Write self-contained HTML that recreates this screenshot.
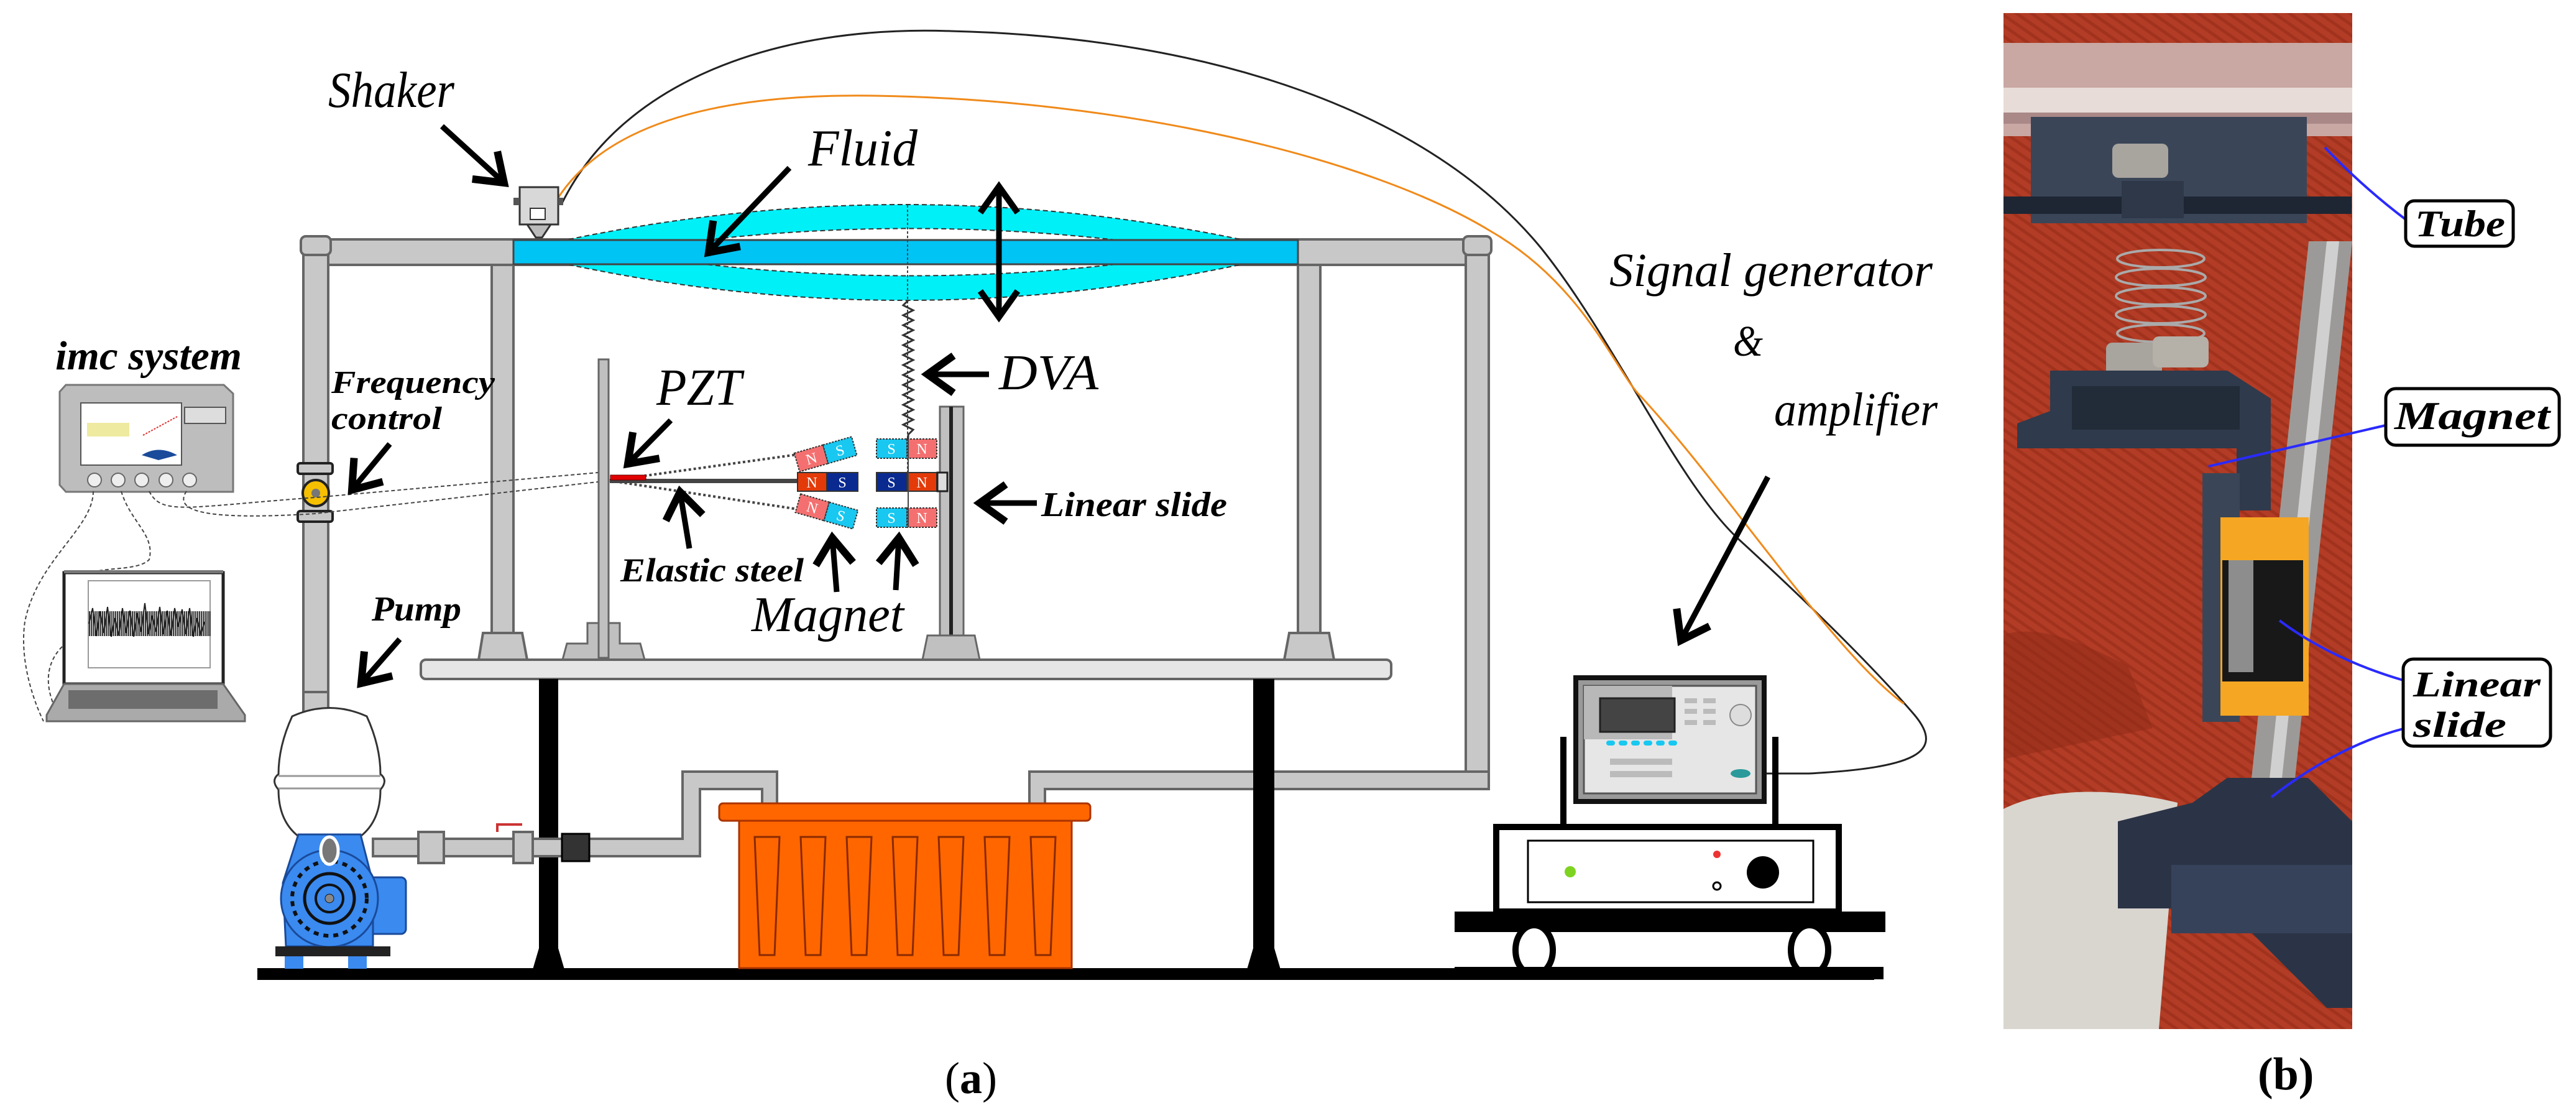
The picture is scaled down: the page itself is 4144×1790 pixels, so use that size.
<!DOCTYPE html>
<html><head><meta charset="utf-8"><style>
html,body{margin:0;padding:0;background:#fff}
svg{display:block}
text{font-family:"Liberation Serif",serif}
</style></head><body>
<svg width="4144" height="1790" viewBox="0 0 4144 1790" xmlns="http://www.w3.org/2000/svg">
<defs>
<marker id="ah" markerWidth="80" markerHeight="80" refX="0" refY="0" viewBox="-50 -40 60 80" orient="auto" markerUnits="userSpaceOnUse">
<path d="M-42,-30 L0,0 L-42,30" fill="none" stroke="#000" stroke-width="12"/>
</marker>
<marker id="ah2" markerWidth="80" markerHeight="80" refX="0" refY="0" viewBox="-50 -40 60 80" orient="auto-start-reverse" markerUnits="userSpaceOnUse">
<path d="M-42,-30 L0,0 L-42,30" fill="none" stroke="#000" stroke-width="10"/>
</marker>
<pattern id="fab" width="14" height="14" patternUnits="userSpaceOnUse" patternTransform="rotate(35)">
<rect width="14" height="14" fill="#b23c25"/><rect width="14" height="5" fill="#a1321d"/>
</pattern>
</defs>

<!-- wires -->
<path d="M903,329 C1000,130 1250,40 1530,50 C1950,60 2300,180 2480,400 C2600,550 2700,780 2800,870 C2920,980 3020,1080 3080,1150 C3130,1210 3080,1235 2910,1244 L2800,1244" fill="none" stroke="#222" stroke-width="3"/>
<path d="M880,350 C950,200 1150,150 1408,154 C1800,160 2200,250 2400,373 C2550,460 2600,600 2640,638 C2780,790 2950,1050 3063,1132" fill="none" stroke="#f08a1a" stroke-width="3"/>

<!-- top frame -->
<g stroke="#666" stroke-width="4" fill="#c8c8c8">
<rect x="488" y="385" width="1907" height="41"/>
<rect x="488" y="385" width="40" height="728"/>
<rect x="2358" y="385" width="37" height="884"/>
<path d="M2395,1241 L1656,1241 L1656,1294 L1681,1294 L1681,1269 L2395,1269 Z"/>
<rect x="791" y="426" width="35" height="595"/>
<rect x="2088" y="426" width="36" height="595"/>
<path d="M770,1061 L777,1018 L840,1018 L848,1061Z"/>
<path d="M2066,1061 L2074,1018 L2138,1018 L2146,1061Z"/>
</g>
<rect x="484" y="380" width="48" height="30" rx="8" fill="#c8c8c8" stroke="#666" stroke-width="4"/>
<rect x="2354" y="380" width="45" height="30" rx="8" fill="#c8c8c8" stroke="#666" stroke-width="4"/>

<!-- fluid -->
<path d="M826,405 Q1455,253 2085,405 Z" fill="#00f0f8" stroke="#333" stroke-width="2" stroke-dasharray="8,5"/>
<path d="M826,405 Q1455,561 2085,405 Z" fill="#00f0f8" stroke="#333" stroke-width="2" stroke-dasharray="8,5"/>
<path d="M1125,387 Q1465,348 1805,387 Z" fill="#fff" stroke="#333" stroke-width="2" stroke-dasharray="8,5"/>
<path d="M1125,424 Q1465,463 1805,424 Z" fill="#fff" stroke="#333" stroke-width="2" stroke-dasharray="8,5"/>
<rect x="826" y="386" width="1262" height="39" fill="#00c4f4" stroke="#444" stroke-width="3"/>
<line x1="1460" y1="330" x2="1460" y2="790" stroke="#444" stroke-width="2" stroke-dasharray="4,3"/>
<!-- double arrow -->
<line x1="1607" y1="300" x2="1607" y2="510" stroke="#000" stroke-width="9" marker-start="url(#ah2)" marker-end="url(#ah2)"/>
<!-- spring -->
<path d="M1461,483 l-8,8 l16,8 l-16,8 l16,8 l-16,8 l16,8 l-16,8 l16,8 l-16,8 l16,8 l-16,8 l16,8 l-16,8 l16,8 l-16,8 l16,8 l-16,8 l16,8 l-16,8 l16,8 l-16,8 l16,8 l-16,8 l16,8 l-16,8 l16,8 l-8,8 L1461,707" fill="none" stroke="#333" stroke-width="3"/>

<!-- shaker -->
<rect x="836" y="301" width="62" height="60" fill="#d8d8d8" stroke="#333" stroke-width="3"/>
<rect x="826" y="318" width="10" height="12" fill="#555"/><rect x="898" y="318" width="8" height="12" fill="#555"/>
<path d="M848,361 L886,361 L872,382 L862,382Z" fill="#bbb" stroke="#333" stroke-width="3"/>
<rect x="853" y="335" width="24" height="18" fill="#fff" stroke="#333" stroke-width="2"/>

<!-- PZT post -->
<rect x="963" y="578" width="16" height="470" fill="#c0c0c0" stroke="#666" stroke-width="3"/>
<path d="M905,1061 L912,1035 L945,1035 L945,1002 L997,1002 L997,1035 L1030,1035 L1037,1061Z" fill="#c0c0c0" stroke="#666" stroke-width="3"/>
<rect x="963" y="578" width="16" height="480" fill="#c0c0c0" stroke="#666" stroke-width="3"/>
<!-- steel & magnets -->
<path d="M981,773 L1290,730 M981,773 L1290,820" stroke="#444" stroke-width="4" stroke-dasharray="4,4"/>
<rect x="981" y="770" width="302" height="7" fill="#444"/>
<rect x="982" y="764" width="57" height="8" fill="#e00000" stroke="#600" stroke-width="1"/>
<g font-family="Liberation Serif" font-size="24" fill="#fff" text-anchor="middle">
<rect x="1283" y="760" width="47" height="30" fill="#e43a0a" stroke="#333" stroke-width="2"/>
<rect x="1330" y="760" width="50" height="30" fill="#0a2a90" stroke="#333" stroke-width="2"/>
<text x="1306" y="784">N</text><text x="1355" y="784">S</text>
<rect x="1410" y="760" width="49" height="30" fill="#0a2a90" stroke="#333" stroke-width="2"/>
<rect x="1459" y="760" width="48" height="30" fill="#e43a0a" stroke="#333" stroke-width="2"/>
<text x="1434" y="784">S</text><text x="1483" y="784">N</text>
<rect x="1410" y="706" width="49" height="31" fill="#18c8f0" stroke="#333" stroke-width="2" stroke-dasharray="3,2"/>
<rect x="1459" y="706" width="48" height="31" fill="#f47070" stroke="#333" stroke-width="2" stroke-dasharray="3,2"/>
<text x="1434" y="730">S</text><text x="1483" y="730">N</text>
<rect x="1410" y="817" width="49" height="31" fill="#18c8f0" stroke="#333" stroke-width="2" stroke-dasharray="3,2"/>
<rect x="1459" y="817" width="48" height="31" fill="#f47070" stroke="#333" stroke-width="2" stroke-dasharray="3,2"/>
<text x="1434" y="841">S</text><text x="1483" y="841">N</text>
<g transform="rotate(-16 1328 730)">
<rect x="1280" y="715" width="48" height="31" fill="#f47070" stroke="#333" stroke-width="2" stroke-dasharray="3,2"/>
<rect x="1328" y="715" width="48" height="31" fill="#18c8f0" stroke="#333" stroke-width="2" stroke-dasharray="3,2"/>
<text x="1304" y="739">N</text><text x="1352" y="739">S</text></g>
<g transform="rotate(16 1330 822)">
<rect x="1282" y="807" width="48" height="31" fill="#f47070" stroke="#333" stroke-width="2" stroke-dasharray="3,2"/>
<rect x="1330" y="807" width="48" height="31" fill="#18c8f0" stroke="#333" stroke-width="2" stroke-dasharray="3,2"/>
<text x="1306" y="831">N</text><text x="1354" y="831">S</text></g>
</g>
<line x1="1461" y1="707" x2="1461" y2="848" stroke="#444" stroke-width="2"/>
<!-- linear slide post -->
<rect x="1512" y="654" width="38" height="370" fill="#c0c0c0" stroke="#666" stroke-width="3"/>
<rect x="1527" y="654" width="6" height="370" fill="#222"/>
<rect x="1508" y="760" width="16" height="30" fill="#ddd" stroke="#222" stroke-width="3"/>
<path d="M1484,1061 L1492,1022 L1568,1022 L1576,1061Z" fill="#c0c0c0" stroke="#666" stroke-width="3"/>

<!-- table -->
<rect x="677" y="1061" width="1561" height="31" rx="8" fill="#e6e6e6" stroke="#666" stroke-width="4"/>
<rect x="867" y="1092" width="31" height="467" fill="#000"/>
<rect x="2016" y="1092" width="34" height="467" fill="#000"/>
<path d="M857,1559 L867,1525 L898,1525 L908,1559Z"/><path d="M2006,1559 L2016,1525 L2050,1525 L2060,1559Z"/>
<rect x="414" y="1557" width="2601" height="19" fill="#000"/>

<!-- pipe pump->tank -->
<path d="M600,1349 L1098,1349 L1098,1241 L1250,1241 L1250,1294 L1226,1294 L1226,1269 L1126,1269 L1126,1377 L600,1377Z" fill="#c8c8c8" stroke="#666" stroke-width="4"/>
<rect x="673" y="1338" width="41" height="50" fill="#c8c8c8" stroke="#666" stroke-width="4"/>
<rect x="826" y="1338" width="31" height="50" fill="#c8c8c8" stroke="#666" stroke-width="4"/>
<path d="M800,1338 L800,1326 L840,1326" fill="none" stroke="#c33" stroke-width="4"/>
<rect x="904" y="1341" width="44" height="44" fill="#333" stroke="#000" stroke-width="3"/>

<!-- tank -->
<rect x="1189" y="1317" width="535" height="240" fill="#ff6600" stroke="#aa3300" stroke-width="3"/>
<rect x="1157" y="1292" width="597" height="28" rx="6" fill="#ff6600" stroke="#aa3300" stroke-width="3"/>
<g fill="none" stroke="#8a2a00" stroke-width="3">
<path d="M1214,1346 L1254,1346 L1246,1536 L1222,1536Z"/><path d="M1288,1346 L1328,1346 L1320,1536 L1296,1536Z"/>
<path d="M1362,1346 L1402,1346 L1394,1536 L1370,1536Z"/><path d="M1436,1346 L1476,1346 L1468,1536 L1444,1536Z"/>
<path d="M1510,1346 L1550,1346 L1542,1536 L1518,1536Z"/><path d="M1584,1346 L1624,1346 L1616,1536 L1592,1536Z"/>
<path d="M1658,1346 L1698,1346 L1690,1536 L1666,1536Z"/></g>

<!-- pump -->
<rect x="488" y="1113" width="40" height="36" fill="#c8c8c8" stroke="#666" stroke-width="4"/>
<path d="M470,1152 Q530,1125 590,1152 Q612,1200 612,1245 Q625,1255 612,1270 Q612,1320 580,1345 L480,1345 Q448,1320 448,1270 Q435,1255 448,1245 Q448,1200 470,1152Z" fill="#fff" stroke="#333" stroke-width="3"/>
<line x1="448" y1="1248" x2="612" y2="1248" stroke="#999" stroke-width="3"/><line x1="448" y1="1268" x2="612" y2="1268" stroke="#999" stroke-width="3"/>
<rect x="592" y="1411" width="61" height="91" rx="8" fill="#3a8af0" stroke="#1a4a9a" stroke-width="3"/>
<path d="M480,1342 L580,1342 L600,1420 L600,1522 L460,1522 L455,1420Z" fill="#3a8af0" stroke="#1a4a9a" stroke-width="3"/>
<circle cx="530" cy="1445" r="78" fill="#3a8af0" stroke="#1a4a9a" stroke-width="3"/>
<circle cx="530" cy="1445" r="60" fill="none" stroke="#111" stroke-width="6" stroke-dasharray="8,8"/>
<circle cx="530" cy="1445" r="40" fill="none" stroke="#111" stroke-width="5"/>
<circle cx="530" cy="1445" r="22" fill="none" stroke="#111" stroke-width="4"/>
<circle cx="530" cy="1445" r="7" fill="#888" stroke="#111"/>
<ellipse cx="530" cy="1368" rx="14" ry="22" fill="#777" stroke="#fff" stroke-width="5"/>
<rect x="443" y="1522" width="185" height="16" fill="#222"/>
<rect x="458" y="1538" width="30" height="20" fill="#3a8af0"/><rect x="560" y="1538" width="30" height="20" fill="#3a8af0"/>

<!-- valve -->
<rect x="479" y="745" width="56" height="17" rx="4" fill="#c8c8c8" stroke="#222" stroke-width="4"/>
<rect x="479" y="822" width="56" height="17" rx="4" fill="#c8c8c8" stroke="#222" stroke-width="4"/>
<circle cx="508" cy="793" r="21" fill="#f6c000" stroke="#222" stroke-width="4"/>
<circle cx="508" cy="793" r="7" fill="#777"/>

<!-- imc box -->
<path d="M96,630 L106,619 L360,619 L375,633 L375,791 L106,791 L96,780Z" fill="#bdbdbd" stroke="#777" stroke-width="3"/>
<rect x="130" y="648" width="162" height="100" fill="#fff" stroke="#555" stroke-width="2"/>
<rect x="297" y="655" width="66" height="26" fill="#ddd" stroke="#555" stroke-width="2"/>
<rect x="140" y="680" width="68" height="22" fill="#eeeaa0"/>
<path d="M230,700 L285,670" stroke="#d33" stroke-width="2" stroke-dasharray="3,2"/>
<path d="M228,732 Q255,715 285,732 L255,740Z" fill="#1a4a9a"/>
<g fill="#eee" stroke="#666" stroke-width="2"><circle cx="152" cy="772" r="11"/><circle cx="190" cy="772" r="11"/><circle cx="228" cy="772" r="11"/><circle cx="267" cy="772" r="11"/><circle cx="305" cy="772" r="11"/></g>
<g fill="none" stroke="#444" stroke-width="2" stroke-dasharray="6,4">
<path d="M150,790 C150,850 60,900 40,1000 C30,1070 60,1140 70,1160"/>
<path d="M195,790 C210,840 250,860 240,900 C220,920 160,910 140,925"/>
<path d="M240,790 C260,830 300,815 508,800 L962,760"/>
<path d="M300,790 C280,820 320,838 508,826 L962,775"/>
<path d="M100,1040 C80,1060 70,1090 85,1130"/>
</g>
<!-- laptop -->
<rect x="103" y="921" width="256" height="179" fill="#fff" stroke="#222" stroke-width="5"/>
<rect x="103" y="917" width="256" height="5" fill="#777"/>
<rect x="142" y="934" width="196" height="140" fill="none" stroke="#999" stroke-width="2"/>
<path d="M143,1003 L339,1003" stroke="#111" stroke-width="40" stroke-dasharray="2,1" opacity="0.85"/>
<path d="M143,1003 l6,-25 l6,45 l6,-40 l6,35 l6,-42 l6,48 l6,-30 l6,28 l6,-44 l6,40 l6,-36 l6,42 l6,-38 l6,30 l6,-46 l6,50 l6,-30 l6,26 l6,-40 l6,44 l6,-38 l6,40 l6,-44 l6,30 l6,-28 l6,40 l6,-42 l6,46 l6,-30 l6,26 l6,-20" fill="none" stroke="#222" stroke-width="2"/>
<path d="M103,1100 L359,1100 L394,1150 L394,1160 L75,1160 L75,1150Z" fill="#aaa" stroke="#666" stroke-width="3"/>
<rect x="110" y="1110" width="240" height="30" fill="#444" opacity="0.6"/>

<!-- signal generator & cart -->
<rect x="2510" y="1185" width="10" height="150" fill="#000"/><rect x="2851" y="1185" width="10" height="150" fill="#000"/>
<rect x="2535" y="1090" width="303" height="199" fill="#999" stroke="#111" stroke-width="8"/>
<rect x="2548" y="1103" width="277" height="173" fill="#e6e6e6" stroke="#555" stroke-width="3"/>
<rect x="2548" y="1103" width="142" height="86" fill="#b8b8b8"/>
<rect x="2574" y="1123" width="120" height="54" fill="#444" stroke="#222" stroke-width="3"/>
<g fill="#18c8f0"><rect x="2584" y="1191" width="14" height="8" rx="4"/><rect x="2604" y="1191" width="14" height="8" rx="4"/><rect x="2624" y="1191" width="14" height="8" rx="4"/><rect x="2644" y="1191" width="14" height="8" rx="4"/><rect x="2664" y="1191" width="14" height="8" rx="4"/><rect x="2684" y="1191" width="14" height="8" rx="4"/></g>
<g fill="#bbb"><rect x="2710" y="1123" width="20" height="8"/><rect x="2740" y="1123" width="20" height="8"/><rect x="2710" y="1140" width="20" height="8"/><rect x="2740" y="1140" width="20" height="8"/><rect x="2710" y="1158" width="20" height="8"/><rect x="2740" y="1158" width="20" height="8"/><rect x="2590" y="1220" width="100" height="10"/><rect x="2590" y="1240" width="100" height="10"/></g>
<circle cx="2800" cy="1150" r="17" fill="#ddd" stroke="#888" stroke-width="2"/>
<ellipse cx="2800" cy="1244" rx="16" ry="7" fill="#2a9a9a"/>
<rect x="2407" y="1330" width="551" height="136" fill="#fff" stroke="#000" stroke-width="10"/>
<rect x="2458" y="1352" width="459" height="99" fill="none" stroke="#000" stroke-width="3"/>
<circle cx="2526" cy="1402" r="9" fill="#7ed321"/><circle cx="2762" cy="1374" r="6" fill="#e33"/>
<circle cx="2836" cy="1403" r="26" fill="#000"/><circle cx="2762" cy="1425" r="6" fill="none" stroke="#000" stroke-width="3"/>
<rect x="2340" y="1466" width="693" height="33" fill="#000"/>
<ellipse cx="2468" cy="1528" rx="30" ry="40" fill="#fff" stroke="#000" stroke-width="10"/>
<ellipse cx="2911" cy="1528" rx="30" ry="40" fill="#fff" stroke="#000" stroke-width="10"/>
<rect x="2340" y="1555" width="690" height="20" fill="#000"/>

<!-- arrows -->
<g stroke="#000" stroke-width="9" marker-end="url(#ah)">
<line x1="711" y1="203" x2="811" y2="294"/>
<line x1="1270" y1="270" x2="1140" y2="406"/>
<line x1="1079" y1="676" x2="1010" y2="746"/>
<line x1="627" y1="714" x2="566" y2="788"/>
<line x1="1109" y1="882" x2="1094" y2="791"/>
<line x1="1346" y1="952" x2="1339" y2="865"/>
<line x1="1441" y1="949" x2="1446" y2="865"/>
<line x1="1668" y1="809" x2="1576" y2="809"/>
<line x1="1591" y1="602" x2="1492" y2="602"/>
<line x1="643" y1="1028" x2="581" y2="1099"/>
<line x1="2844" y1="767" x2="2704" y2="1030"/>
</g>

<!-- labels -->
<g font-style="italic" fill="#000">
<text x="528" y="172" font-size="82" textLength="203" lengthAdjust="spacingAndGlyphs">Shaker</text>
<text x="1300" y="266" font-size="84" textLength="176" lengthAdjust="spacingAndGlyphs">Fluid</text>
<text x="1056" y="651" font-size="84" textLength="137" lengthAdjust="spacingAndGlyphs">PZT</text>
<text x="1607" y="626" font-size="80" textLength="160" lengthAdjust="spacingAndGlyphs">DVA</text>
<text x="1209" y="1015" font-size="80" textLength="245" lengthAdjust="spacingAndGlyphs">Magnet</text>
<text x="2589" y="460" font-size="76" textLength="520" lengthAdjust="spacingAndGlyphs">Signal  generator</text>
<text x="2788" y="572" font-size="70" textLength="48" lengthAdjust="spacingAndGlyphs">&amp;</text>
<text x="2854" y="684" font-size="76" textLength="263" lengthAdjust="spacingAndGlyphs">amplifier</text>
<g font-weight="bold">
<text x="89" y="594" font-size="66" textLength="300" lengthAdjust="spacingAndGlyphs">imc system</text>
<text x="533" y="632" font-size="52" textLength="263" lengthAdjust="spacingAndGlyphs">Frequency</text>
<text x="533" y="690" font-size="52" textLength="178" lengthAdjust="spacingAndGlyphs">control</text>
<text x="1675" y="830" font-size="56" textLength="299" lengthAdjust="spacingAndGlyphs">Linear slide</text>
<text x="998" y="935" font-size="54" textLength="295" lengthAdjust="spacingAndGlyphs">Elastic steel</text>
<text x="598" y="998" font-size="56" textLength="144" lengthAdjust="spacingAndGlyphs">Pump</text>
</g></g>
<text x="1520" y="1758" font-size="72">(<tspan font-weight="bold">a</tspan>)</text>

<!-- photo (b) -->
<svg x="3223" y="21" width="561" height="1634" viewBox="0 0 561 1634">
<rect width="561" height="1634" fill="url(#fab)"/>
<path d="M0,1280 C80,1240 200,1250 280,1270 L250,1634 L0,1634Z" fill="#d9d5cf"/>
<path d="M0,1000 C60,980 140,1020 200,1050 L240,1150 L0,1200Z" fill="#8e2a18" opacity="0.5"/>
<rect x="0" y="48" width="561" height="150" fill="#c9a7a3"/>
<rect x="0" y="120" width="561" height="40" fill="#e8dcd8"/>
<rect x="0" y="160" width="561" height="18" fill="#a88"/>
<!-- rail -->
<path d="M491,367 L561,367 L453,1381 L383,1381Z" fill="#9c9a98"/>
<path d="M520,367 L540,367 L432,1381 L412,1381Z" fill="#d0d0d0"/>
<!-- top bracket -->
<rect x="44" y="167" width="444" height="171" fill="#3a4658"/>
<rect x="0" y="295" width="560" height="28" fill="#1e2634"/>
<rect x="190" y="270" width="100" height="60" fill="#2e3848"/>
<rect x="175" y="210" width="90" height="55" rx="10" fill="#a8a49e"/>
<!-- spring -->
<g fill="none" stroke="#aaa" stroke-width="4">
<ellipse cx="253" cy="395" rx="70" ry="14"/><ellipse cx="253" cy="425" rx="72" ry="14"/><ellipse cx="253" cy="455" rx="72" ry="14"/><ellipse cx="253" cy="485" rx="72" ry="14"/><ellipse cx="253" cy="515" rx="70" ry="14"/></g>
<rect x="165" y="530" width="90" height="55" rx="10" fill="#a8a49e"/>
<rect x="240" y="520" width="90" height="50" rx="10" fill="#b5b0a8"/>
<!-- lower bracket -->
<path d="M75,575 L360,575 L430,620 L430,800 L375,800 L375,700 L22,700 L22,660 L75,640Z" fill="#2f3a4c"/>
<rect x="110" y="600" width="270" height="70" fill="#222b38"/>
<path d="M320,740 L380,740 L380,1140 L320,1140Z" fill="#3a4658"/>
<!-- slider -->
<rect x="349" y="811" width="142" height="319" fill="#f5a623"/>
<rect x="352" y="880" width="130" height="195" fill="#181818"/>
<rect x="362" y="880" width="40" height="180" fill="#8d8d8d"/>
<!-- base -->
<path d="M184,1300 L304,1270 L360,1230 L490,1230 L561,1300 L561,1600 L520,1600 L400,1480 L280,1480 L280,1440 L184,1440Z" fill="#2b3446"/>
<rect x="270" y="1370" width="291" height="110" fill="#36425a"/>
</svg>
<!-- photo labels -->
<g stroke="#2a2aff" stroke-width="4" fill="none">
<path d="M3740,237 Q3800,300 3870,353"/>
<path d="M3553,750 L3838,684"/>
<path d="M3667,998 Q3750,1060 3866,1094"/>
<path d="M3654,1282 Q3760,1200 3866,1172"/>
</g>
<g fill="#fff" stroke="#000" stroke-width="5">
<rect x="3870" y="323" width="173" height="73" rx="14"/>
<rect x="3838" y="625" width="279" height="91" rx="16"/>
<rect x="3866" y="1060" width="237" height="140" rx="16"/>
</g>
<g font-weight="bold" font-style="italic" fill="#000">
<text x="3885" y="380" font-size="60" textLength="145" lengthAdjust="spacingAndGlyphs">Tube</text>
<text x="3852" y="690" font-size="64" textLength="250" lengthAdjust="spacingAndGlyphs">Magnet</text>
<text x="3882" y="1120" font-size="58" textLength="205" lengthAdjust="spacingAndGlyphs">Linear</text>
<text x="3882" y="1185" font-size="58" textLength="150" lengthAdjust="spacingAndGlyphs">slide</text>
</g>
<text x="3632" y="1752" font-size="74" font-weight="bold">(b)</text>
</svg>
</body></html>
